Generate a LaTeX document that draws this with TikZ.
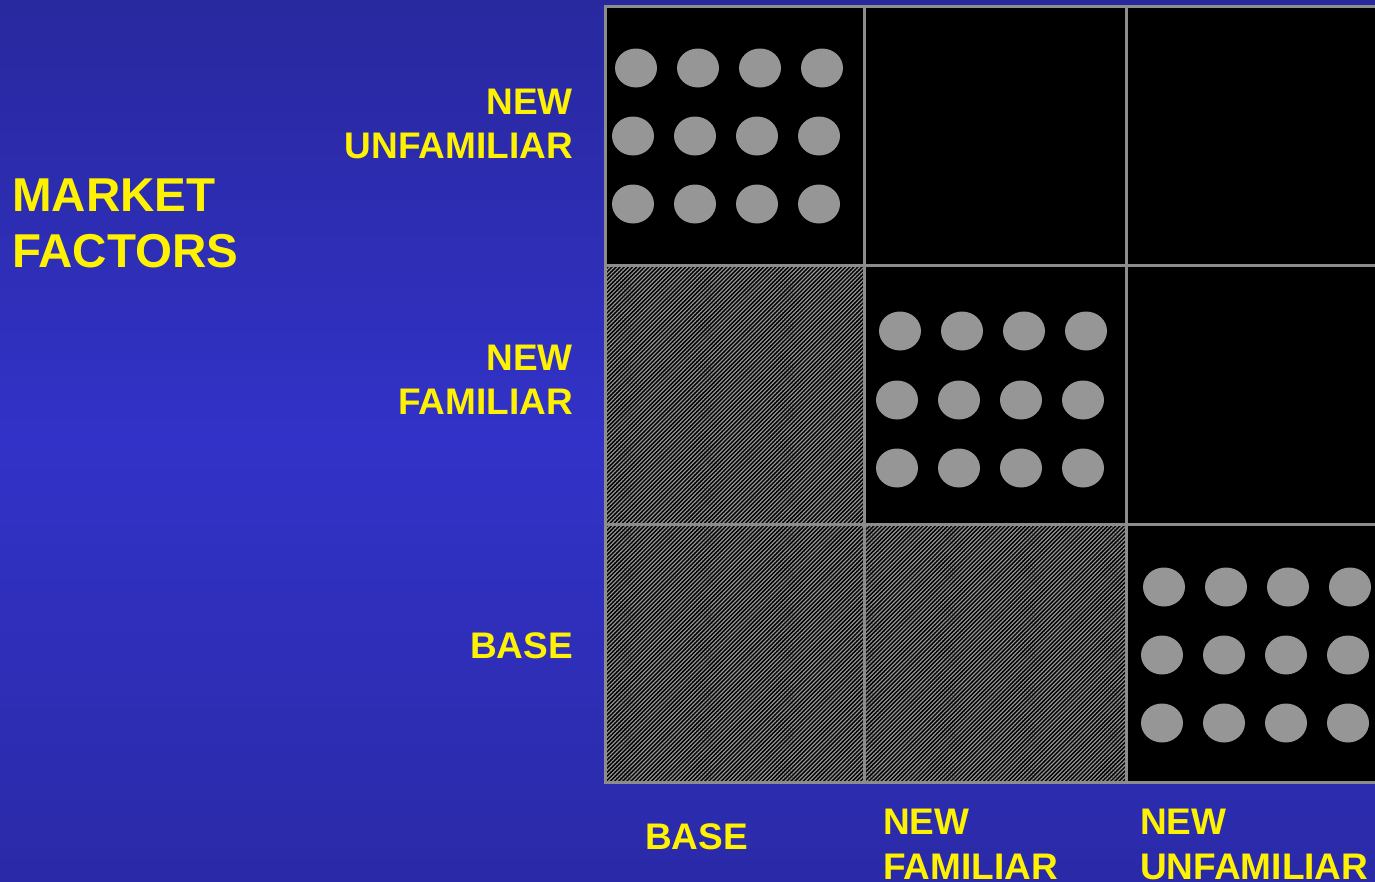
\documentclass[tikz,border=0pt]{standalone}
\usepackage{fontspec}
\setmainfont{Liberation Sans}
\usetikzlibrary{patterns.meta}
\definecolor{bgtop}{RGB}{40,40,158}
\definecolor{bgmid}{RGB}{50,50,200}
\definecolor{bgbot}{RGB}{42,42,168}
\definecolor{gridgray}{RGB}{140,140,140}
\definecolor{dotgray}{RGB}{150,150,150}
\definecolor{hatchgray}{RGB}{150,150,150}
\tikzset{
  cellbox/.style={draw=gridgray, line width=3pt, fill=black},
  hatchbox/.style={draw=gridgray, line width=3pt, pattern={Lines[angle=45,distance=2.9pt,line width=1.2pt]}, pattern color=hatchgray},
  dot/.style={fill=dotgray, draw=none},
  biglabel/.style={text=yellow, font=\bfseries\fontsize{47.5}{56}\selectfont, inner sep=0pt},
  axlabel/.style={text=yellow, font=\bfseries\fontsize{37}{44}\selectfont, inner sep=0pt}
}
\begin{document}
\begin{tikzpicture}[x=1pt,y=-1pt]
\useasboundingbox (0,0) rectangle (1375,881);
\clip (0,0) rectangle (1375,881);
\shade[top color=bgtop, bottom color=bgbot, middle color=bgmid] (0,0) rectangle (1375,881);
% cells
\fill[black] (605,265) rectangle (864,524);
\fill[black] (605,524) rectangle (1126,782);
\draw[hatchbox] (605,265) rectangle (864,524);
\draw[hatchbox] (605,524) rectangle (864,782);
\draw[hatchbox] (864,524) rectangle (1126,782);
\draw[cellbox] (605,6) rectangle (864,265);
\draw[cellbox] (864,6) rectangle (1126,265);
\draw[cellbox] (1126,6) rectangle (1390,265);
\draw[cellbox] (864,265) rectangle (1126,524);
\draw[cellbox] (1126,265) rectangle (1390,524);
\draw[cellbox] (1126,524) rectangle (1390,782);
% dots: x of row 1, x of rows 2-3, y of rows 1,2,3
\foreach \xa/\xb/\ya/\yb/\yc in {636/633/68/136/204, 900/897/331/400/468, 1164/1162/587/655/723}{
  \foreach \i in {0,1,2,3}{
    \fill[dot] ({\xa+62*\i},\ya) ellipse (21 and 19.5);
    \fill[dot] ({\xb+62*\i},\yb) ellipse (21 and 19.5);
    \fill[dot] ({\xb+62*\i},\yc) ellipse (21 and 19.5);
  }
}
% labels
\node[biglabel, anchor=base west] (mk1) at (12,211) {MARKET};
\node[biglabel, anchor=base west] (mk2) at (12,267) {FACTORS};
\node[axlabel, anchor=base east] (r1a) at (573,114) {NEW};
\node[axlabel, anchor=base east] (r1b) at (573,158) {UNFAMILIAR};
\node[axlabel, anchor=base east] (r2a) at (573,370) {NEW};
\node[axlabel, anchor=base east] (r2b) at (573,414) {FAMILIAR};
\node[axlabel, anchor=base east] (r3) at (573,658) {BASE};
\node[axlabel, anchor=base west] (c1) at (645,849) {BASE};
\node[axlabel, anchor=base west] (c2a) at (883,834) {NEW};
\node[axlabel, anchor=base west] (c2b) at (883,879) {FAMILIAR};
\node[axlabel, anchor=base west] (c3a) at (1140,834) {NEW};
\node[axlabel, anchor=base west] (c3b) at (1140,879) {UNFAMILIAR};
\end{tikzpicture}
\end{document}
